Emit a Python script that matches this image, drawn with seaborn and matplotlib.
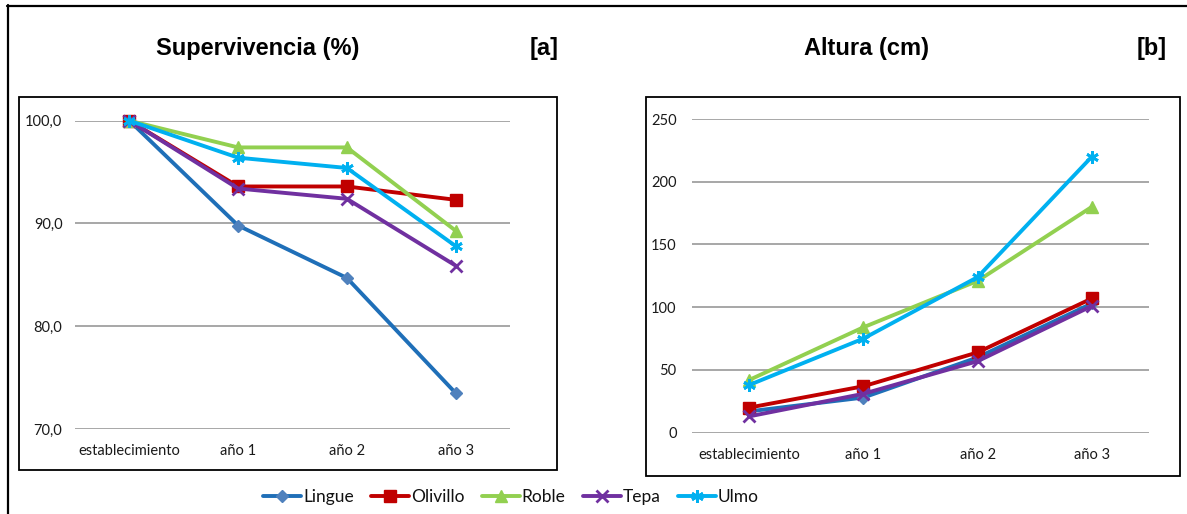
import matplotlib
matplotlib.use("Agg")
import matplotlib.pyplot as plt
from matplotlib.patches import Rectangle
from matplotlib.lines import Line2D
from matplotlib.ticker import FuncFormatter
import seaborn as sns
import pandas as pd

# ---- data ----
categories = ["establecimiento", "año 1", "año 2", "año 3"]
species = ["Lingue", "Olivillo", "Roble", "Tepa", "Ulmo"]

surv_lingue = [100.0, 89.8, 84.7, 73.5]
surv_olivillo = [100.0, 93.6, 93.6, 92.3]
surv_roble = [100.0, 97.4, 97.4, 89.3]
surv_tepa = [100.0, 93.4, 92.4, 85.9]
surv_ulmo = [100.0, 96.4, 95.4, 87.8]

alt_lingue = [17, 28, 60, 103]
alt_olivillo = [20, 37, 64, 107]
alt_roble = [42, 84, 121, 180]
alt_tepa = [13, 31, 57, 101]
alt_ulmo = [38, 75, 124, 220]

surv_ticks = [70, 80, 90, 100]
alt_ticks = [0, 50, 100, 150, 200, 250]

titles = ["Supervivencia (%)", "Altura (cm)"]
tags = ["[a]", "[b]"]

surv = dict(zip(species, [surv_lingue, surv_olivillo, surv_roble, surv_tepa, surv_ulmo]))
alt = dict(zip(species, [alt_lingue, alt_olivillo, alt_roble, alt_tepa, alt_ulmo]))

# ---- styles ----
colors = {"Lingue": "#1F6FB8", "Olivillo": "#C00000", "Roble": "#92D050",
          "Tepa": "#7030A0", "Ulmo": "#00B0F0"}
mfc = {"Lingue": "#4F81BD", "Olivillo": "#C00000", "Roble": "#92D050",
       "Tepa": "#7030A0", "Ulmo": "#00B0F0"}
markers = {"Lingue": "D", "Olivillo": "s", "Roble": "^", "Tepa": "x", "Ulmo": (6, 2, 0)}
msizes = {"Lingue": 6, "Olivillo": 9, "Roble": 9, "Tepa": 8, "Ulmo": 9}
order_draw = ["Lingue", "Olivillo", "Roble", "Tepa", "Ulmo"]

sns.set_theme(style="white")
plt.rcParams["font.family"] = ["Lato", "DejaVu Sans"]

W, H = 1187, 514
fig = plt.figure(figsize=(W / 100, H / 100), dpi=100)
fig.patch.set_facecolor("white")


def fx(px):
    return px / W


def fy(py):
    return 1 - py / H


# outer frame (left + top)
fig.add_artist(Line2D([fx(7.5), fx(7.5)], [fy(5), fy(520)], color="black", lw=1.6, transform=fig.transFigure))
fig.add_artist(Line2D([fx(7), fx(1190)], [fy(5.5), fy(5.5)], color="black", lw=1.6, transform=fig.transFigure))

# panel boxes
for (x0, y0, x1, y1) in [(18.5, 97, 557, 470), (646, 97, 1180, 476)]:
    fig.add_artist(Rectangle((fx(x0), fy(y1)), fx(x1 - x0), (y1 - y0) / H, fill=False,
                             edgecolor="black", lw=1.3, transform=fig.transFigure))

axL = fig.add_axes([fx(75), fy(429), fx(510 - 75), (429 - 120.7) / H])
axR = fig.add_axes([fx(692), fy(432.7), fx(1149 - 692), (432.7 - 119) / H])


def draw(ax, data, ylim, yticks, fmt, ypad):
    for sp in order_draw:
        df = pd.DataFrame({"cat": categories, "val": data[sp]})
        sns.lineplot(data=df, x="cat", y="val", ax=ax, sort=False, color=colors[sp],
                     lw=2.8, marker=markers[sp], markersize=msizes[sp],
                     markerfacecolor=mfc[sp], markeredgecolor=mfc[sp],
                     markeredgewidth=2 if sp in ("Tepa", "Ulmo") else 1,
                     clip_on=False, zorder=3, label=sp)
    ax.set_xlim(-0.5, len(categories) - 0.5)
    ax.set_ylim(*ylim)
    ax.set_yticks(yticks)
    ax.yaxis.set_major_formatter(FuncFormatter(fmt))
    ax.grid(axis="y", color="#A0A0A0", lw=1.3)
    ax.grid(axis="x", visible=False)
    for s in ax.spines.values():
        s.set_visible(False)
    ax.set_xlabel("")
    ax.set_ylabel("")
    ax.tick_params(axis="y", length=0, pad=ypad, labelsize=10.5, labelcolor="#1a1a1a")
    ax.tick_params(axis="x", length=0, pad=11, labelsize=10.5, labelcolor="#1a1a1a")
    ax.set_facecolor("none")
    leg = ax.get_legend()
    if leg is not None:
        leg.remove()


draw(axL, surv, (70, 100), surv_ticks, lambda v, p: f"{v:.1f}".replace(".", ","), 9)
draw(axR, alt, (0, 250), alt_ticks, lambda v, p: f"{v:.0f}", 11)

# titles
tfont = dict(family=["Liberation Sans", "DejaVu Sans"], weight="bold", fontsize=17, color="black")
fig.text(fx(258), fy(49), titles[0], ha="center", va="center", **tfont)
fig.text(fx(559), fy(49), tags[0], ha="right", va="center", **tfont)
fig.text(fx(867), fy(49), titles[1], ha="center", va="center", **tfont)
fig.text(fx(1167), fy(49), tags[1], ha="right", va="center", **tfont)

# legend
handles, labels = axL.get_legend_handles_labels()
fig.legend(handles, labels, loc="center", bbox_to_anchor=(fx(511), fy(497)), ncol=5,
           frameon=False, fontsize=12.5, handlelength=2.2, handletextpad=0.1,
           columnspacing=1.0, borderaxespad=0, labelcolor="#111111")

fig.savefig("out.png", dpi=100, facecolor="white")
